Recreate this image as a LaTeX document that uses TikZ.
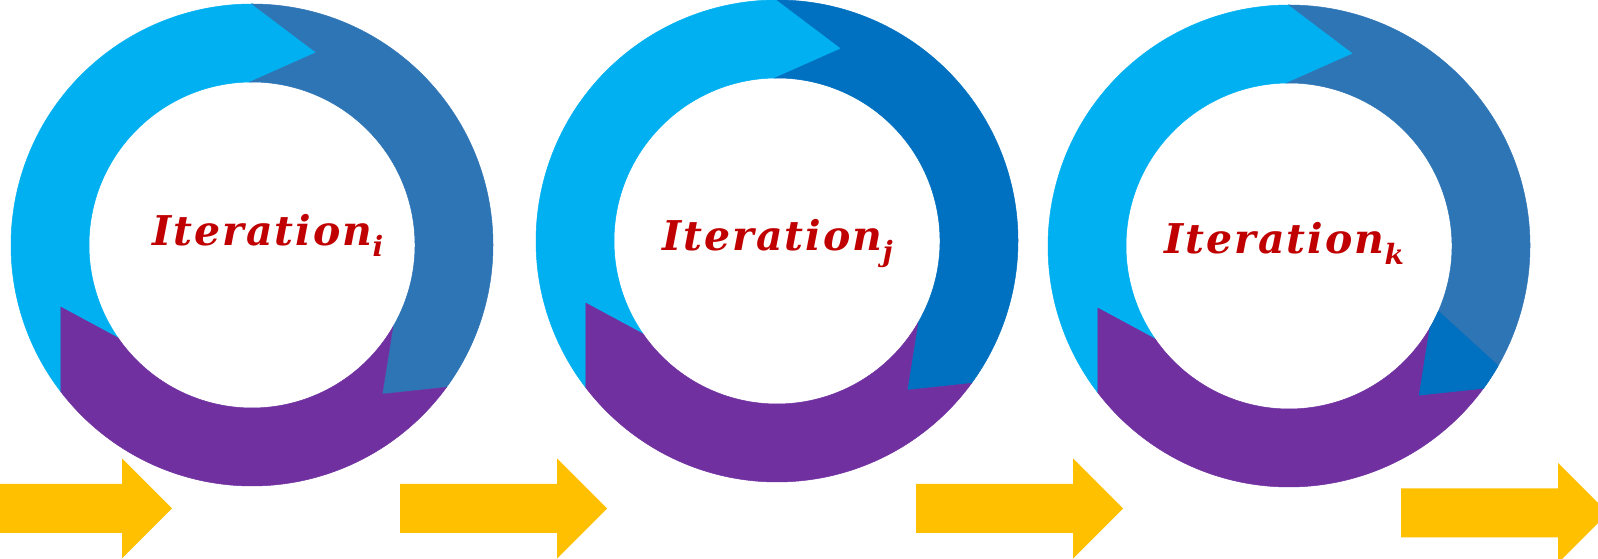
\documentclass[tikz,border=0pt]{standalone}
\usepackage{fontspec}
\usepackage{xcolor}
\usepackage{tikz}
\newfontfamily\iterfont{DejaVu Serif}[LetterSpace=5]

\definecolor{cycLight}{HTML}{00B0F0}
\definecolor{cycSteel}{HTML}{2E75B6}
\definecolor{cycBlue}{HTML}{0070C0}
\definecolor{cycPurple}{HTML}{7030A0}
\definecolor{stepGold}{HTML}{FFC000}
\definecolor{labelRed}{HTML}{C00000}

\begin{document}
\begin{tikzpicture}[x=1pt, y=1pt,
  band/.style={fill=#1, draw=#1, line width=0.5pt},
  iterlabel/.style={text=labelRed, inner sep=0pt, anchor=base west,
    font=\iterfont\bfseries\itshape\fontsize{41}{46}\selectfont}]
  \useasboundingbox (0,0) rectangle (1598,559);
  % Cycles: three arrow bands each
  \foreach \cx/\cy/\dark in {252/314/cycSteel, 777/318/cycBlue, 1289/313/cycSteel} {
    \begin{scope}[shift={(\cx,\cy)}]
      \path[band=cycLight] (217.5:241) arc[start angle=217.5, end angle=90, radius=241]
        -- (71.5:203) -- (90.7:163) arc[start angle=90.7, end angle=214.8, radius=163]
        -- (198:201) -- cycle;
      \path[band=\dark] (90:241) arc[start angle=90, end angle=-36.2, radius=241]
        -- (-48.9:198) -- (-30.2:163) arc[start angle=-30.2, end angle=90.7, radius=163]
        -- (71.5:203) -- cycle;
      \path[band=cycPurple] (-36.2:241) arc[start angle=-36.2, end angle=-142.5, radius=241]
        -- (-162:201) -- (-145.2:163) arc[start angle=-145.2, end angle=-30.2, radius=163]
        -- (-48.9:198) -- cycle;
    \end{scope}
  }
  % last cycle: brighter head on the right band
  \begin{scope}[shift={(1289,313)}]
    \path[band=cycBlue] (-23.6:163) -- (-29.8:241) arc[start angle=-29.8, end angle=-36.2, radius=241]
      -- (-48.9:198) -- (-30.2:163) arc[start angle=-30.2, end angle=-23.6, radius=163] -- cycle;
  \end{scope}
  % Labels
  \node[iterlabel] (iter-i) at (152,313) {Iteration\raisebox{-11pt}{\fontsize{28}{30}\selectfont i}};
  \node[iterlabel] (iter-j) at (662,308) {Iteration\raisebox{-11pt}{\fontsize{28}{30}\selectfont j}};
  \node[iterlabel] (iter-k) at (1164,305) {Iteration\raisebox{-11pt}{\fontsize{28}{30}\selectfont k}};
  % Step arrows along the bottom
  \foreach \x/\xh/\yc in {-1/122/50.5, 400/557/50.5, 916/1073/50.5, 1401/1558/46}
    \fill[stepGold] (\x,\yc-24.5) -- (\xh,\yc-24.5) -- (\xh,\yc-50) -- (\xh+50,\yc)
      -- (\xh,\yc+50) -- (\xh,\yc+24.5) -- (\x,\yc+24.5) -- cycle;
\end{tikzpicture}
\end{document}
